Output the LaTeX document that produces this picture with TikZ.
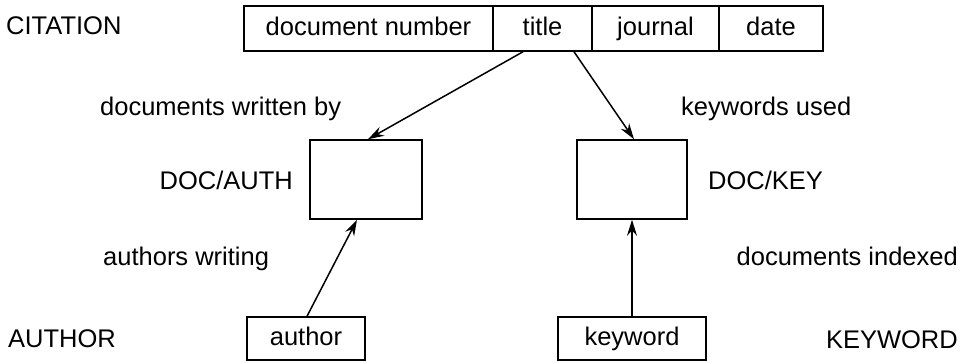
\documentclass[tikz,border=0pt]{standalone}
\usepackage{fontspec}
\setmainfont{Liberation Sans}
\usetikzlibrary{arrows.meta}
\begin{document}
\begin{tikzpicture}[x=1pt,y=-1pt,
  lbl/.style={inner sep=0pt, font=\fontsize{25.5}{30}\selectfont},
  cell/.style={draw, line width=1.5pt, inner sep=0pt, font=\fontsize{25.5}{30}\selectfont, text height=18pt, text depth=5pt},
  emptybox/.style={draw, line width=1.5pt, inner sep=0pt},
  conn/.style={line width=1.5pt, -{Stealth[length=16pt,width=10pt]}}]
\useasboundingbox (0,0) rectangle (968,362);
% citation record
\node[cell, minimum width=249pt, minimum height=45pt] (docnum) at (368.5,28.5) {document number};
\node[cell, minimum width=99pt, minimum height=45pt] (title) at (542.5,28.5) {title};
\node[cell, minimum width=127pt, minimum height=45pt] (journal) at (655.5,28.5) {journal};
\node[cell, minimum width=104pt, minimum height=45pt] (date) at (771,28.5) {date};
% link boxes
\node[emptybox, minimum width=112pt, minimum height=79pt] (docauth) at (366,179.5) {};
\node[emptybox, minimum width=110pt, minimum height=79pt] (dockey) at (632,179.5) {};
% bottom records
\node[cell, minimum width=118pt, minimum height=43pt] (author) at (306,338.5) {author};
\node[cell, minimum width=148pt, minimum height=43pt] (keyword) at (632,338.5) {keyword};
% labels
\node[lbl, anchor=base west] (lcit) at (6,34) {CITATION};
\node[lbl, anchor=base west] (lwritten) at (100,115) {documents written by};
\node[lbl, anchor=base east] (ldocauth) at (293,189) {DOC/AUTH};
\node[lbl, anchor=base west] (lwriting) at (103,265) {authors writing};
\node[lbl, anchor=base west] (lauthor) at (8,347) {AUTHOR};
\node[lbl, anchor=base west] (lused) at (681,115) {keywords used};
\node[lbl, anchor=base west] (ldockey) at (708,189) {DOC/KEY};
\node[lbl, anchor=base east] (lindexed) at (958,265) {documents indexed};
\node[lbl, anchor=base east] (lkeyword) at (958,348) {KEYWORD};
% connectors
\draw[conn] ([xshift=-19.5pt]title.south) -- ([xshift=2pt]docauth.north);
\draw[conn] ([xshift=31.5pt]title.south) -- ([xshift=2pt]dockey.north);
\draw[conn] ([xshift=1pt]author.north) -- ([xshift=-9pt]docauth.south);
\draw[conn] (keyword.north) -- (dockey.south);
\end{tikzpicture}
\end{document}
